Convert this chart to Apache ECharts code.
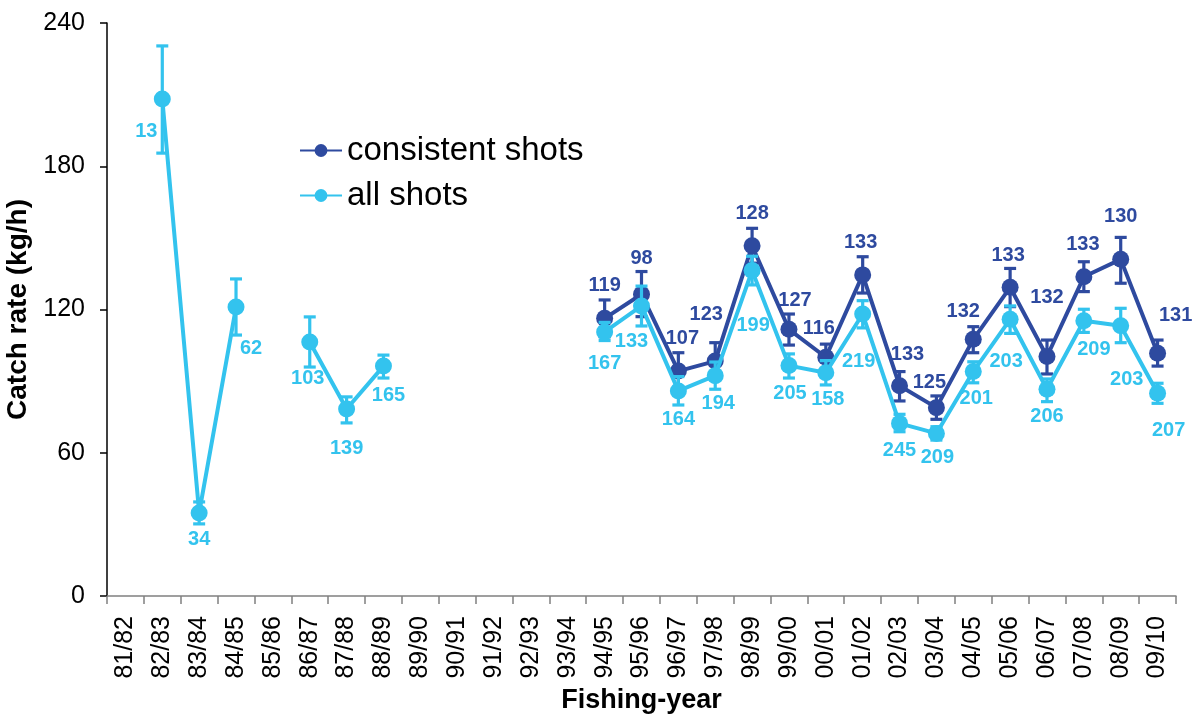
<!DOCTYPE html>
<html>
<head>
<meta charset="utf-8">
<script src="https://cdn.jsdelivr.net/npm/echarts@6/dist/echarts.min.js"></script>
<style>html,body{margin:0;padding:0;background:#fff}#c{width:1199px;height:717px}</style>
</head>
<body>
<div id="c"></div>
<script>
var categories = ['81/82','82/83','83/84','84/85','85/86','86/87','87/88','88/89','89/90','90/91','91/92','92/93','93/94','94/95','95/96','96/97','97/98','98/99','99/00','00/01','01/02','02/03','03/04','04/05','05/06','06/07','07/08','08/09','09/10'];
var yTicks = [0, 60, 120, 180, 240];

var consVals = [null,null,null,null,null,null,null,null,null,null,null,null,null,116.3,126.4,94.2,98.4,146.7,111.7,100,134.5,88.1,78.9,107.5,129.3,100.3,133.7,141,101.7];
var consHigh = [null,null,null,null,null,null,null,null,null,null,null,null,null,124,135.9,101.9,106.1,154,118.1,105.5,142.1,94,83.8,112.8,137.2,107.2,140,150.2,107.2];
var consLow  = [null,null,null,null,null,null,null,null,null,null,null,null,null,108.6,117,86.5,90.7,139.4,105.1,94.5,126.9,81.7,74,101.9,121.2,93,127.5,131,96.3];
var consN    = [null,null,null,null,null,null,null,null,null,null,null,null,null,119,98,107,123,128,127,116,133,133,125,132,133,132,133,130,131];

var allVals = [null,208.2,34.8,121,null,106.4,78.3,96.3,null,null,null,null,null,110.6,121.5,85.9,92.3,136.3,96.5,93.5,118.1,72.3,68.1,94,115.9,86.6,115.3,113.2,84.9];
var allHigh = [null,230.4,39.4,132.8,null,116.9,83.4,100.9,null,null,null,null,null,114.6,129.8,91.9,98,142.3,101.4,98.6,123.7,76.1,70.9,98.1,121.5,90.9,120.1,120.5,89.1];
var allLow  = [null,185.5,30.2,109.3,null,95.9,72.5,91.3,null,null,null,null,null,107,113.1,80,86.6,130.3,91.3,88.4,112.3,68.8,65.3,89.3,110,81.4,110.4,106.1,80.7];
var allN    = [null,13,34,62,null,103,139,165,null,null,null,null,null,167,133,164,194,199,205,158,219,245,209,201,203,206,209,203,207];

// label offsets (style only), [dx, dy] from marker centre
var consOffsets = [null,null,null,null,null,null,null,null,null,null,null,null,null,[0,-33],[0,-36],[4,-33],[-9,-47],[0,-32],[6,-29],[-7,-29],[-2,-32],[8,-31],[-7,-25],[-10,-28],[-2,-32],[0,-59],[-1,-32],[0,-43],[18,-38]];
var allOffsets = [null,[-16,33],[0,27],[15,41],null,[-2,37],[0,39],[5,29],null,null,null,null,null,[0,32],[-10,36],[0,29],[3,28],[1,55],[1,28],[2,27],[-4,47],[0,27],[1,24],[3,27],[-4,42],[0,27],[10,29],[6,54],[11,37]];

var cDark = '#2E4A9F';
var cLight = '#33C3EE';

function lineData(vals, ns, offs) {
  return vals.map(function (v, i) {
    if (v == null) return null;
    return { value: v, label: { offset: offs[i], formatter: String(ns[i]) } };
  });
}
function errData(low, high) {
  var out = [];
  for (var i = 0; i < low.length; i++) if (low[i] != null) out.push([i, low[i], high[i]]);
  return out;
}
function errRender(color) {
  return function (params, api) {
    var lo = api.coord([api.value(0), api.value(1)]);
    var hi = api.coord([api.value(0), api.value(2)]);
    var w = 6;
    var st = { stroke: color, lineWidth: 3.2 };
    return { type: 'group', children: [
      { type: 'line', shape: { x1: hi[0], y1: hi[1], x2: lo[0], y2: lo[1] }, style: st },
      { type: 'line', shape: { x1: hi[0] - w, y1: hi[1], x2: hi[0] + w, y2: hi[1] }, style: st },
      { type: 'line', shape: { x1: lo[0] - w, y1: lo[1], x2: lo[0] + w, y2: lo[1] }, style: st }
    ]};
  };
}

var chart = echarts.init(document.getElementById('c'));
chart.setOption({
  animation: false,
  backgroundColor: '#fff',
  textStyle: { fontFamily: 'Liberation Sans, Arial, sans-serif' },
  grid: { left: 107, right: 23, top: 23, bottom: 121, containLabel: false, outerBoundsMode: 'none' },
  legend: {
    orient: 'vertical', left: 294, top: 129, itemWidth: 42, itemHeight: 16, itemGap: 12,
    data: ['consistent shots', 'all shots'],
    textStyle: { fontSize: 33, color: '#000', fontFamily: 'Liberation Sans, Arial, sans-serif' }
  },
  xAxis: {
    type: 'category', data: categories, boundaryGap: true,
    name: 'Fishing-year', nameLocation: 'middle', nameGap: 91,
    nameTextStyle: { fontSize: 27, fontWeight: 'bold', color: '#000' },
    axisLine: { lineStyle: { color: '#808080', width: 1.5 } },
    axisTick: { show: true, length: 8, interval: 0, lineStyle: { color: '#808080', width: 1.5 } },
    axisLabel: { interval: 0, rotate: 90, fontSize: 25, color: '#000', margin: 20 }
  },
  yAxis: {
    type: 'value', min: yTicks[0], max: yTicks[yTicks.length - 1], interval: 60,
    name: 'Catch rate (kg/h)', nameLocation: 'middle', nameGap: 52, nameRotate: 90,
    nameTextStyle: { fontSize: 28, fontWeight: 'bold', color: '#000' },
    axisLine: { show: true, lineStyle: { color: '#000', width: 1.5 } },
    axisTick: { show: true, length: 7, lineStyle: { color: '#000', width: 1.5 } },
    splitLine: { show: false },
    axisLabel: { fontSize: 25, color: '#000', margin: 22 }
  },
  series: [
    {
      name: 'consistent shots', type: 'line', data: lineData(consVals, consN, consOffsets),
      connectNulls: false, symbol: 'circle', symbolSize: 17, z: 3,
      itemStyle: { color: cDark }, lineStyle: { color: cDark, width: 4 },
      label: { show: true, position: 'inside', fontSize: 20, fontWeight: 'bold', color: cDark }
    },
    {
      name: 'consistent err', type: 'custom', data: errData(consLow, consHigh),
      renderItem: errRender(cDark), z: 3, encode: { x: 0, y: [1, 2] }
    },
    {
      name: 'all shots', type: 'line', data: lineData(allVals, allN, allOffsets),
      connectNulls: false, symbol: 'circle', symbolSize: 17, z: 4,
      itemStyle: { color: cLight }, lineStyle: { color: cLight, width: 4 },
      label: { show: true, position: 'inside', fontSize: 20, fontWeight: 'bold', color: cLight }
    },
    {
      name: 'all err', type: 'custom', data: errData(allLow, allHigh),
      renderItem: errRender(cLight), z: 4, encode: { x: 0, y: [1, 2] }
    }
  ]
});
</script>
</body>
</html>
